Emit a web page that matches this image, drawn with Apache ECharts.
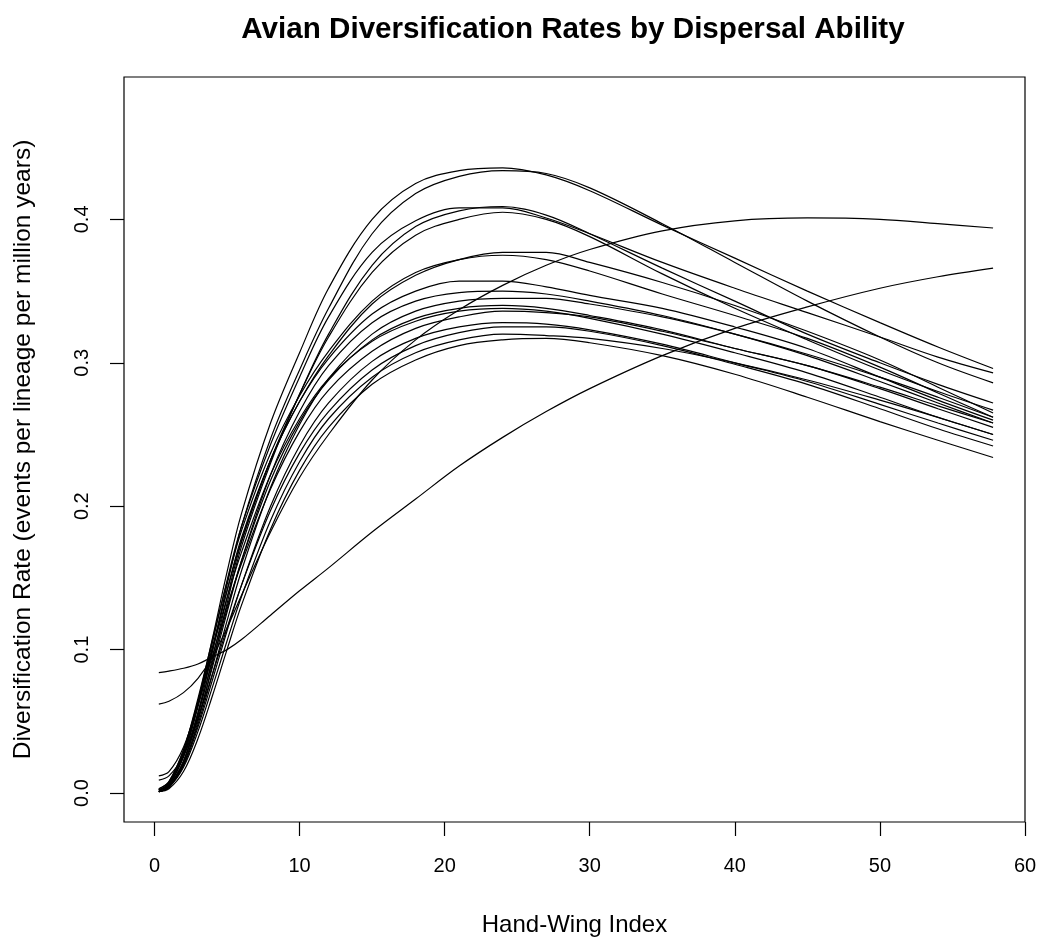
<!DOCTYPE html>
<html>
<head>
<meta charset="utf-8">
<title>Avian Diversification Rates by Dispersal Ability</title>
<script src="https://cdn.jsdelivr.net/npm/echarts@6/dist/echarts.min.js"></script>
<style>
  html, body { margin: 0; padding: 0; background: #ffffff; }
  #chart { width: 1042px; height: 942px; }
</style>
</head>
<body>
<div id="chart"></div>
<script>
// Hand-Wing Index values at which every fitted curve is sampled
const hwi = [0.3, 1, 2, 3, 4, 5, 6, 8, 10, 12, 15, 18, 21, 24, 27, 30, 35, 40, 45, 50, 54, 57.8];

// Fitted diversification-rate curves (events per lineage per million years)
const curveA = [0.002,0.007,0.028,0.064,0.108,0.154,0.195,0.258,0.307,0.352,0.4,0.425,0.434,0.436,0.431,0.42,0.396,0.373,0.35,0.328,0.311,0.296];
const curveB = [0.001,0.005,0.022,0.056,0.099,0.145,0.186,0.247,0.295,0.338,0.39,0.418,0.43,0.434,0.432,0.422,0.397,0.37,0.343,0.318,0.3,0.286];
const curveC = [0.002,0.006,0.026,0.062,0.105,0.148,0.186,0.243,0.29,0.332,0.377,0.399,0.408,0.408,0.401,0.39,0.37,0.352,0.335,0.318,0.304,0.293];
const curveD = [0.001,0.004,0.02,0.05,0.09,0.132,0.172,0.23,0.278,0.32,0.368,0.395,0.406,0.409,0.403,0.39,0.366,0.343,0.32,0.3,0.285,0.272];
const curveE = [0.001,0.005,0.022,0.054,0.094,0.136,0.175,0.232,0.278,0.318,0.363,0.389,0.4,0.405,0.4,0.388,0.362,0.338,0.316,0.295,0.28,0.267];
const curveF = [0.002,0.006,0.026,0.06,0.1,0.141,0.178,0.232,0.273,0.305,0.341,0.361,0.372,0.377,0.377,0.37,0.356,0.34,0.322,0.302,0.283,0.265];
const curveG = [0.003,0.008,0.03,0.066,0.107,0.147,0.183,0.237,0.277,0.308,0.343,0.363,0.372,0.375,0.372,0.364,0.348,0.333,0.317,0.297,0.279,0.262];
const curveH = [0.002,0.007,0.028,0.063,0.102,0.141,0.176,0.232,0.273,0.303,0.334,0.35,0.357,0.357,0.353,0.347,0.338,0.325,0.31,0.29,0.274,0.26];
const curveI = [0.001,0.005,0.022,0.052,0.088,0.126,0.162,0.222,0.266,0.298,0.328,0.343,0.349,0.35,0.348,0.343,0.333,0.32,0.305,0.287,0.272,0.258];
const curveJ = [0.001,0.004,0.02,0.048,0.083,0.12,0.155,0.213,0.257,0.289,0.32,0.336,0.343,0.345,0.345,0.341,0.332,0.32,0.306,0.29,0.276,0.262];
const curveK = [0.002,0.006,0.025,0.056,0.092,0.128,0.162,0.218,0.259,0.288,0.316,0.331,0.338,0.34,0.338,0.333,0.323,0.31,0.298,0.282,0.268,0.255];
const curveL = [0.003,0.008,0.03,0.064,0.1,0.136,0.168,0.222,0.261,0.289,0.315,0.329,0.336,0.338,0.336,0.331,0.32,0.307,0.293,0.276,0.262,0.25];
const curveM = [0.012,0.015,0.032,0.062,0.096,0.13,0.16,0.212,0.252,0.281,0.308,0.324,0.332,0.336,0.335,0.332,0.322,0.31,0.298,0.283,0.27,0.258];
const curveN = [0.001,0.004,0.019,0.046,0.079,0.113,0.145,0.2,0.242,0.272,0.301,0.317,0.325,0.328,0.327,0.323,0.313,0.3,0.287,0.271,0.258,0.246];
const curveO = [0.009,0.012,0.026,0.052,0.083,0.115,0.145,0.197,0.237,0.266,0.295,0.312,0.321,0.325,0.325,0.322,0.312,0.299,0.285,0.268,0.254,0.242];
const curveP = [0.001,0.004,0.018,0.043,0.074,0.106,0.137,0.19,0.231,0.261,0.29,0.307,0.316,0.32,0.319,0.317,0.31,0.3,0.288,0.274,0.262,0.25];
const curveQ = [0.001,0.003,0.015,0.038,0.068,0.1,0.131,0.184,0.225,0.255,0.285,0.302,0.312,0.316,0.317,0.314,0.305,0.292,0.276,0.259,0.246,0.234];
const curveR = [0.084,0.085,0.087,0.09,0.095,0.1,0.107,0.124,0.141,0.157,0.182,0.205,0.228,0.248,0.266,0.282,0.305,0.324,0.339,0.352,0.36,0.366];
const curveS = [0.062,0.064,0.07,0.08,0.095,0.115,0.138,0.182,0.22,0.25,0.288,0.316,0.337,0.354,0.368,0.379,0.392,0.399,0.401,0.4,0.397,0.394];

const curves = [curveA, curveB, curveC, curveD, curveE, curveF, curveG, curveH, curveI, curveJ,
                curveK, curveL, curveM, curveN, curveO, curveP, curveQ, curveR, curveS];

// Axis ticks
const xTicks = [0, 10, 20, 30, 40, 50, 60];
const yTicks = [0, 0.1, 0.2, 0.3, 0.4];

const chart = echarts.init(document.getElementById('chart'), null, { renderer: 'canvas' });

const series = curves.map(function (vals, i) {
  return {
    name: 'curve' + (i + 1),
    type: 'line',
    data: vals.map(function (v, j) { return [hwi[j], v]; }),
    showSymbol: false,
    smooth: 0.35,
    lineStyle: { color: '#000000', width: 1.2 },
    silent: true
  };
});

const font = 'Liberation Sans, Arial, sans-serif';

chart.setOption({
  animation: false,
  backgroundColor: '#ffffff',
  title: {
    text: 'Avian Diversification Rates by Dispersal Ability',
    left: 568,
    textAlign: 'center',
    top: 10,
    textStyle: { fontFamily: font, fontWeight: 'bold', fontSize: 29.6, color: '#000000' }
  },
  grid: {
    left: 124, right: 17, top: 77, bottom: 120,
    show: true, borderColor: '#000000', borderWidth: 1.2, backgroundColor: 'transparent'
  },
  xAxis: {
    type: 'value',
    min: -2.1, max: 60,
    name: 'Hand-Wing Index',
    nameLocation: 'middle',
    nameGap: 91,
    nameTextStyle: { fontFamily: font, fontSize: 24, color: '#000000' },
    axisLine: { show: false, onZero: false },
    axisTick: { show: true, inside: false, customValues: xTicks, length: 14, lineStyle: { color: '#000000', width: 1.2 } },
    axisLabel: {
      customValues: xTicks, margin: 34,
      fontFamily: font, fontSize: 20, color: '#000000',
      formatter: function (v) { return String(v); }
    },
    splitLine: { show: false }
  },
  yAxis: {
    type: 'value',
    min: -0.0202, max: 0.4993,
    name: 'Diversification Rate (events per lineage per million years)',
    nameLocation: 'middle',
    nameRotate: 90,
    nameGap: 88,
    nameTextStyle: { fontFamily: font, fontSize: 24.5, color: '#000000' },
    axisLine: { show: false, onZero: false },
    axisTick: { show: true, inside: false, customValues: yTicks, length: 14, lineStyle: { color: '#000000', width: 1.2 } },
    axisLabel: {
      customValues: yTicks, margin: 32, rotate: 90,
      fontFamily: font, fontSize: 20, color: '#000000',
      formatter: function (v) { return v.toFixed(1); }
    },
    splitLine: { show: false }
  },
  series: series
});
</script>
</body>
</html>
